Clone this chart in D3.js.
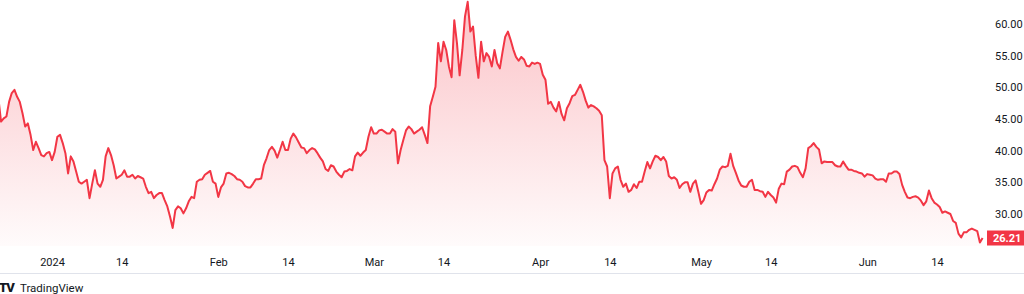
<!DOCTYPE html>
<html>
<head>
<meta charset="utf-8">
<script src="https://cdn.jsdelivr.net/npm/d3@7"></script>
<style>
  body { margin: 0; background: #fff; overflow: hidden; }
  svg { display: block; }
</style>
</head>
<body>
<svg id="chart" width="1024" height="294"></svg>
<script>
// samples every 12 hours starting 22 Dec 2023
var startTime = Date.UTC(2023, 11, 22);
var stepHours = 12;
var prices = [
  48.3, 44.6, 45.1, 45.4, 47.7, 49.1, 49.6, 48.5, 47.7, 45.9,
  43.8, 44.3, 42.5, 40.1, 41.4, 40.4, 39.3, 39.1, 39.6, 39.8,
  38.5, 39.8, 42.2, 42.5, 41.2, 39.6, 36.4, 39.1, 38.3, 36.7,
  35.1, 34.8, 35.1, 35.4, 32.5, 34.8, 36.9, 34.8, 34.3, 35.4,
  39.1, 40.4, 39.3, 37.7, 35.6, 35.9, 36.2, 36.9, 35.9,
  35.9, 36.2, 35.6, 36.0, 35.8, 35.6, 34.3, 33.3, 33.5, 32.5,
  33.0, 33.3, 33.3, 32.2, 31.2, 29.6, 27.8, 30.6, 31.2, 30.9,
  30.1, 30.9, 32.0, 32.7, 32.5, 35.1, 35.4, 35.5, 36.2, 36.5,
  36.8, 35.1, 34.8, 32.7, 34.2, 34.8, 36.4, 36.5, 36.3, 36.0,
  35.5, 35.4, 35.1, 34.4, 34.2, 34.2, 34.8, 35.5,
  35.5, 35.6, 37.7, 38.8, 40.1, 40.6, 40.0, 38.9, 40.1, 41.4,
  40.1, 40.1, 41.9, 42.7, 42.1, 41.3, 40.5, 40.4, 39.6, 40.1,
  40.4, 40.2, 39.6, 38.9, 38.3, 37.1, 36.8, 37.7, 37.5, 36.7,
  36.2, 35.8, 36.7, 36.8, 37.1, 36.9, 39.1, 39.7, 39.2, 39.7,
  40.1, 42.2, 43.7, 42.7, 42.7, 43.2, 43.3,
  43.0, 42.7, 42.7, 43.4, 43.0, 38.0, 40.1, 41.7, 43.2, 43.8,
  43.4, 42.7, 43.0, 43.3, 43.7, 42.5, 41.2, 47.0, 48.5, 50.1,
  57.0, 54.1, 57.2, 55.9, 53.3, 51.6, 60.6, 57.0, 51.9, 55.9,
  61.2, 63.5, 58.8, 59.6, 55.0, 51.5, 57.2, 54.1, 55.4, 54.8,
  53.3, 55.9, 53.8, 53.0, 55.6, 58.0, 58.8, 57.5,
  56.0, 54.8, 54.2, 54.8, 54.4, 53.4, 53.3, 53.9, 53.7, 53.9,
  53.7, 52.0, 51.2, 47.4, 47.7, 46.8, 46.2, 47.7, 45.8, 44.8,
  46.7, 47.5, 48.6, 48.8, 49.6, 50.4, 49.3, 47.9, 46.8, 47.2,
  47.0, 46.7, 46.3, 45.6, 38.5, 37.5, 32.5, 36.4, 37.2, 37.5,
  35.4, 34.3, 34.8, 33.5, 33.8, 34.7, 34.1, 35.1,
  35.1, 36.7, 38.2, 37.2, 38.3, 39.2, 39.0, 38.5, 39.0, 38.3,
  36.0, 35.6, 35.8, 35.4, 34.1, 34.7, 35.0, 35.0, 33.5, 34.8,
  35.3, 33.5, 31.6, 32.2, 33.4, 33.8, 33.7, 34.7, 35.6, 37.0,
  37.5, 37.4, 37.6, 39.5, 37.6, 36.5, 35.3, 34.5, 34.3, 34.3,
  35.1, 35.4, 33.8, 33.8, 33.6, 33.5, 32.7, 33.5,
  33.0, 32.6, 31.8, 34.0, 34.8, 34.7, 36.7, 37.0, 37.5, 37.6,
  37.4, 36.5, 35.8, 37.2, 40.4, 40.7, 41.2, 40.6, 40.2, 38.0,
  38.3, 38.2, 38.2, 38.2, 37.7, 37.5, 37.5, 38.3, 37.6, 37.0,
  37.0, 36.8, 36.7, 36.5, 36.4, 35.9, 36.3, 36.2, 36.1, 35.6,
  35.4, 35.5, 35.5, 35.1, 36.4, 36.4, 36.7, 36.7,
  36.3, 34.6, 33.5, 32.6, 32.5, 32.7, 32.8, 32.6, 32.1, 31.4,
  32.0, 33.7, 32.5, 31.8, 31.5, 31.1, 30.2, 30.4, 30.2, 30.0,
  28.9, 28.6, 26.9, 26.3, 27.1, 27.1, 27.5, 27.7, 27.5, 27.3,
  25.5, 26.21
];
var lastPrice = 26.21;

var timeTicks = ["2024-01-01", "2024-01-14", "2024-02-01", "2024-02-14", "2024-03-01", "2024-03-14",
                 "2024-04-01", "2024-04-14", "2024-05-01", "2024-05-14", "2024-06-01", "2024-06-14"];
var timeLabels = ["2024", "14", "Feb", "14", "Mar", "14", "Apr", "14", "May", "14", "Jun", "14"];
var priceTicks = [30, 35, 40, 45, 50, 55, 60];

var red = "#F23645";
var font = "Roboto, 'Noto Sans', sans-serif";

var data = prices.map(function(v, i) {
  return { t: new Date(startTime + i * stepHours * 3600 * 1000), v: v };
});

var parseDay = d3.utcParse("%Y-%m-%d");
var tickDates = timeTicks.map(parseDay);

var svg = d3.select("#chart");
var plotRight = 986, plotBottom = 246;

// 1 Jan at 52px, 14 Jun at 937px
var x = d3.scaleUtc()
  .domain([parseDay("2024-01-01"), parseDay("2024-06-14")])
  .range([52, 937]);

var y = d3.scaleLinear()
  .domain([30, 60])
  .range([214, 24]);

var defs = svg.append("defs");
var grad = defs.append("linearGradient")
  .attr("id", "fill")
  .attr("gradientUnits", "userSpaceOnUse")
  .attr("x1", 0).attr("y1", 0).attr("x2", 0).attr("y2", plotBottom);
grad.append("stop").attr("offset", 0).attr("stop-color", red).attr("stop-opacity", 0.3);
grad.append("stop").attr("offset", 1).attr("stop-color", red).attr("stop-opacity", 0.02);

defs.append("clipPath").attr("id", "plot")
  .append("rect").attr("x", 0).attr("y", 0).attr("width", plotRight).attr("height", plotBottom);

var g = svg.append("g").attr("clip-path", "url(#plot)");

var area = d3.area()
  .x(function(d) { return x(d.t); })
  .y0(plotBottom)
  .y1(function(d) { return y(d.v); });

var line = d3.line()
  .x(function(d) { return x(d.t); })
  .y(function(d) { return y(d.v); });

g.append("path")
  .datum(data)
  .attr("d", area)
  .attr("fill", "url(#fill)");

g.append("path")
  .datum(data)
  .attr("d", line)
  .attr("fill", "none")
  .attr("stroke", red)
  .attr("stroke-width", 2)
  .attr("stroke-linejoin", "round");

// time scale
var xAxis = svg.append("g")
  .attr("transform", "translate(0,262)")
  .call(d3.axisBottom(x)
    .tickValues(tickDates)
    .tickFormat(function(d, i) { return timeLabels[i]; })
    .tickSize(0)
    .tickPadding(0));
xAxis.select(".domain").remove();
xAxis.selectAll("text")
  .attr("y", 0)
  .attr("dy", "0.35em")
  .attr("fill", "#131722")
  .style("font-family", font)
  .style("font-size", "11px");

// price scale
var yAxis = svg.append("g")
  .attr("transform", "translate(995,0)")
  .call(d3.axisRight(y)
    .tickValues(priceTicks)
    .tickFormat(d3.format(".2f"))
    .tickSize(0)
    .tickPadding(0));
yAxis.select(".domain").remove();
yAxis.selectAll("text")
  .attr("fill", "#131722")
  .style("font-family", font)
  .style("font-size", "11px");

// last price badge
svg.append("rect")
  .attr("x", 987)
  .attr("y", y(lastPrice) - 7.5)
  .attr("width", 37)
  .attr("height", 15)
  .attr("fill", red);
svg.append("text")
  .attr("x", 993)
  .attr("y", y(lastPrice))
  .attr("dy", "0.35em")
  .attr("fill", "#fff")
  .style("font-family", font)
  .style("font-size", "11px")
  .style("font-weight", "bold")
  .text(d3.format(".2f")(lastPrice));

// footer
svg.append("line")
  .attr("x1", 0).attr("x2", 1024)
  .attr("y1", 273.5).attr("y2", 273.5)
  .attr("stroke", "#e0e3eb");

svg.append("text")
  .attr("x", -1)
  .attr("y", 292)
  .attr("fill", "#131722")
  .style("font-family", font)
  .style("font-size", "13px")
  .style("font-weight", 900)
  .style("letter-spacing", "-1px")
  .text("TV");

svg.append("text")
  .attr("x", 20)
  .attr("y", 292)
  .attr("fill", "#131722")
  .style("font-family", font)
  .style("font-size", "11.5px")
  .text("TradingView");
</script>
</body>
</html>
